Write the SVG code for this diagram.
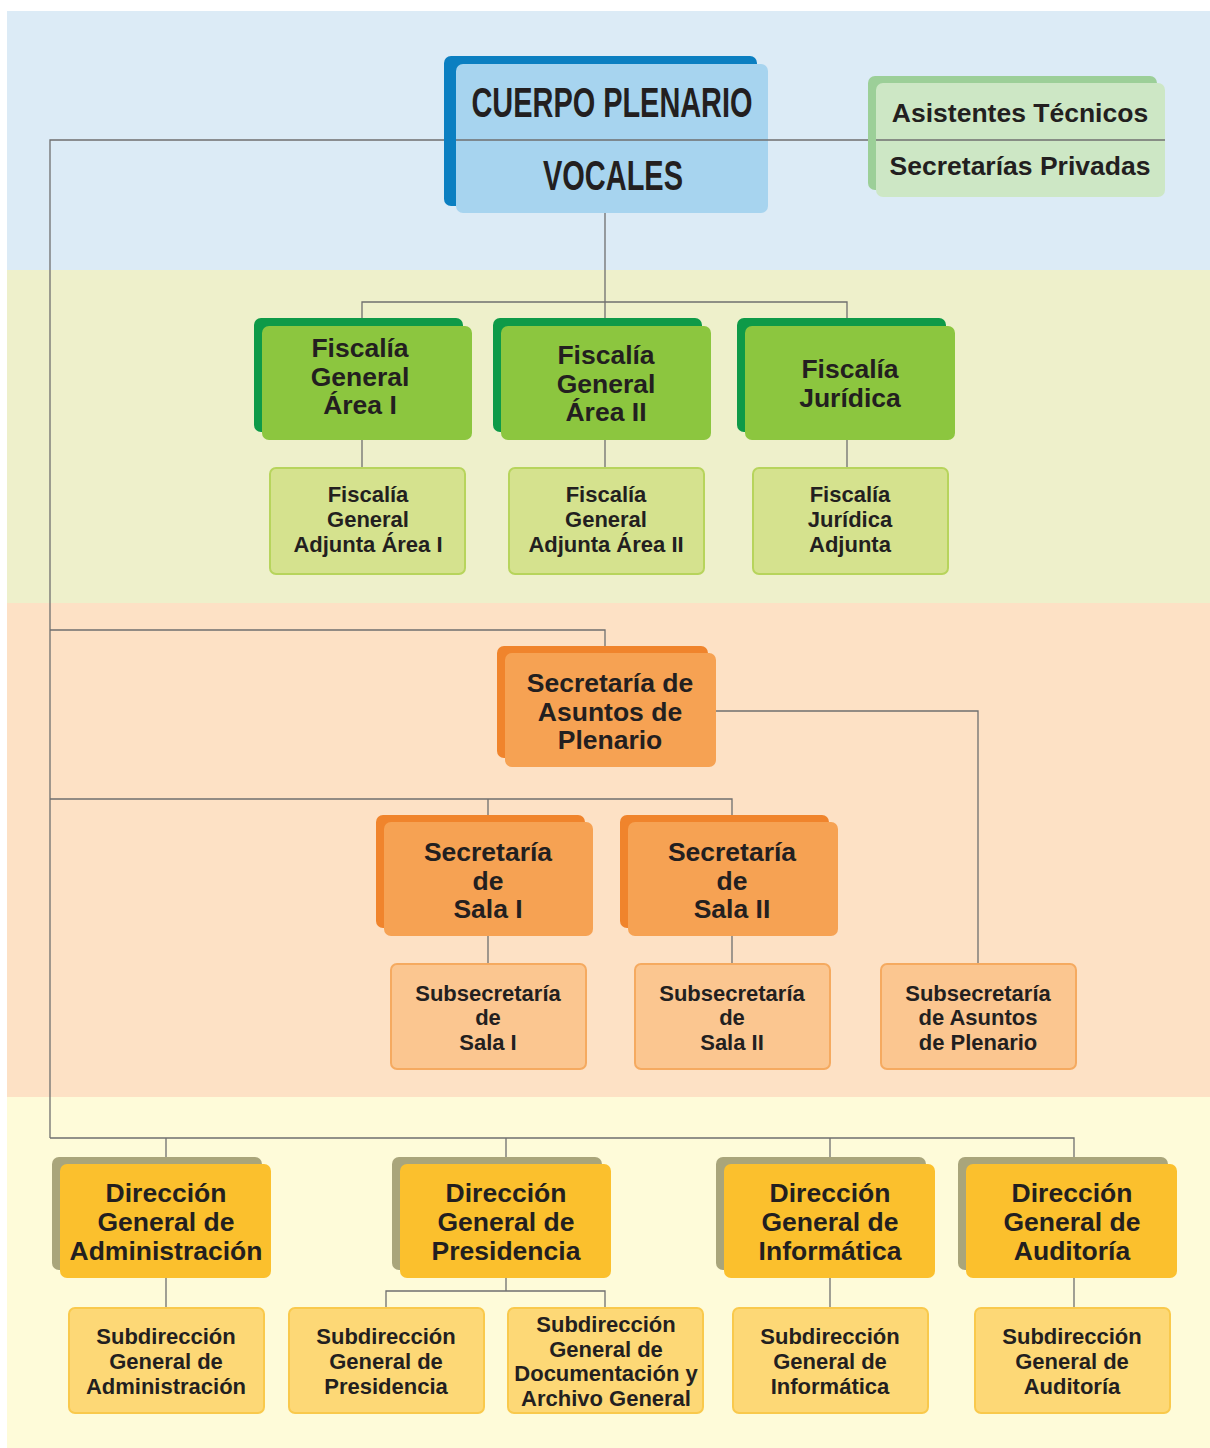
<svg xmlns="http://www.w3.org/2000/svg" width="1210" height="1448" viewBox="0 0 1210 1448">
<style>
text{font-family:"Liberation Sans",Arial,sans-serif;font-weight:bold;fill:#231f20;text-anchor:middle}
.m{font-size:26.5px}
.s{font-size:22px}
.h{font-size:42px}
.c{stroke:#6f6f6f;stroke-width:1.3;fill:none}
.gb{fill:#0e9a48}.gf{fill:#8cc63f}
.gs{fill:#d5e28e;stroke:#b7d45c;stroke-width:2}
.ob{fill:#f0842c}.of{fill:#f6a253}
.os{fill:#fbc690;stroke:#f5aa60;stroke-width:2}
.yb{fill:#a9a57b}.yf{fill:#fbc02d}
.ys{fill:#fdd876;stroke:#f9c94c;stroke-width:2}
</style>
<rect x="0" y="0" width="1210" height="1448" fill="#ffffff"/>
<rect x="7" y="11" width="1203" height="259" fill="#dcebf6"/>
<rect x="7" y="270" width="1203" height="333" fill="#eef0cb"/>
<rect x="7" y="603" width="1203" height="494" fill="#fde1c5"/>
<rect x="7" y="1097" width="1203" height="351" fill="#fefbd9"/>

<g id="connectors">
<path class="c" d="M50 1138 V140 H1165"/>
<path class="c" d="M605 213 V302 M362 320 V302 H847 V320 M605 302 V320"/>
<path class="c" d="M362 440 V467 M605 440 V467 M847 440 V467"/>
<path class="c" d="M50 630 H605 V646"/>
<path class="c" d="M716 711 H978 V963"/>
<path class="c" d="M50 799 H732 V815 M488 799 V815"/>
<path class="c" d="M488 936 V963 M732 936 V963"/>
<path class="c" d="M50 1138 H1074 V1157 M166 1138 V1157 M506 1138 V1157 M830 1138 V1157"/>
<path class="c" d="M166 1278 V1307 M830 1278 V1307 M1074 1278 V1307 M506 1278 V1291 M386 1307 V1291 H605 V1307"/>
</g>

<g id="cuerpo-plenario">
<rect x="444" y="56" width="313" height="150" rx="7" fill="#0b7fc1"/>
<rect x="456" y="64" width="312" height="149" rx="7" fill="#a7d4ef"/>
<line x1="456" y1="140" x2="768" y2="140" stroke="#6f6f6f" stroke-width="1.3"/>
<text class="h" x="612" y="117" textLength="281" lengthAdjust="spacingAndGlyphs">CUERPO PLENARIO</text>
<text class="h" x="613" y="190" textLength="140" lengthAdjust="spacingAndGlyphs">VOCALES</text>
</g>

<g id="asistentes">
<rect x="868" y="76" width="289" height="114" rx="7" fill="#9ccf98"/>
<rect x="876" y="83" width="289" height="114" rx="7" fill="#cde7c5"/>
<line x1="876" y1="140" x2="1165" y2="140" stroke="#6f6f6f" stroke-width="1.3"/>
<text class="m" x="1020" y="122">Asistentes Técnicos</text>
<text class="m" x="1020" y="175">Secretarías Privadas</text>
</g>

<g id="fiscalia-general-area-1">
<rect class="gb" x="254" y="318" width="209" height="114" rx="7"/>
<rect class="gf" x="262" y="326" width="210" height="114" rx="7"/>
<text class="m" x="360" y="357">Fiscalía</text>
<text class="m" x="360" y="386">General</text>
<text class="m" x="360" y="414">Área I</text>
</g>
<g id="fiscalia-general-area-2">
<rect class="gb" x="493" y="318" width="209" height="114" rx="7"/>
<rect class="gf" x="501" y="326" width="210" height="114" rx="7"/>
<text class="m" x="606" y="364">Fiscalía</text>
<text class="m" x="606" y="393">General</text>
<text class="m" x="606" y="421">Área II</text>
</g>
<g id="fiscalia-juridica">
<rect class="gb" x="737" y="318" width="209" height="114" rx="7"/>
<rect class="gf" x="745" y="326" width="210" height="114" rx="7"/>
<text class="m" x="850" y="378">Fiscalía</text>
<text class="m" x="850" y="407">Jurídica</text>
</g>

<g id="fiscalia-adjunta-1">
<rect class="gs" x="270" y="468" width="195" height="106" rx="6"/>
<text class="s" x="368" y="502">Fiscalía</text>
<text class="s" x="368" y="527">General</text>
<text class="s" x="368" y="552">Adjunta Área I</text>
</g>
<g id="fiscalia-adjunta-2">
<rect class="gs" x="509" y="468" width="195" height="106" rx="6"/>
<text class="s" x="606" y="502">Fiscalía</text>
<text class="s" x="606" y="527">General</text>
<text class="s" x="606" y="552">Adjunta Área II</text>
</g>
<g id="fiscalia-juridica-adjunta">
<rect class="gs" x="753" y="468" width="195" height="106" rx="6"/>
<text class="s" x="850" y="502">Fiscalía</text>
<text class="s" x="850" y="527">Jurídica</text>
<text class="s" x="850" y="552">Adjunta</text>
</g>

<g id="secretaria-asuntos-plenario">
<rect class="ob" x="497" y="646" width="211" height="112" rx="7"/>
<rect class="of" x="505" y="653" width="211" height="114" rx="7"/>
<text class="m" x="610" y="692">Secretaría de</text>
<text class="m" x="610" y="721">Asuntos de</text>
<text class="m" x="610" y="749">Plenario</text>
</g>

<g id="secretaria-sala-1">
<rect class="ob" x="376" y="815" width="209" height="113" rx="7"/>
<rect class="of" x="384" y="822" width="209" height="114" rx="7"/>
<text class="m" x="488" y="861">Secretaría</text>
<text class="m" x="488" y="890">de</text>
<text class="m" x="488" y="918">Sala I</text>
</g>
<g id="secretaria-sala-2">
<rect class="ob" x="620" y="815" width="209" height="113" rx="7"/>
<rect class="of" x="628" y="822" width="210" height="114" rx="7"/>
<text class="m" x="732" y="861">Secretaría</text>
<text class="m" x="732" y="890">de</text>
<text class="m" x="732" y="918">Sala II</text>
</g>

<g id="subsecretaria-sala-1">
<rect class="os" x="391" y="964" width="195" height="105" rx="6"/>
<text class="s" x="488" y="1001">Subsecretaría</text>
<text class="s" x="488" y="1025">de</text>
<text class="s" x="488" y="1050">Sala I</text>
</g>
<g id="subsecretaria-sala-2">
<rect class="os" x="635" y="964" width="195" height="105" rx="6"/>
<text class="s" x="732" y="1001">Subsecretaría</text>
<text class="s" x="732" y="1025">de</text>
<text class="s" x="732" y="1050">Sala II</text>
</g>
<g id="subsecretaria-asuntos-plenario">
<rect class="os" x="881" y="964" width="195" height="105" rx="6"/>
<text class="s" x="978" y="1001">Subsecretaría</text>
<text class="s" x="978" y="1025">de Asuntos</text>
<text class="s" x="978" y="1050">de Plenario</text>
</g>

<g id="direccion-administracion">
<rect class="yb" x="52" y="1157" width="210" height="113" rx="7"/>
<rect class="yf" x="60" y="1164" width="211" height="114" rx="7"/>
<text class="m" x="166" y="1202">Dirección</text>
<text class="m" x="166" y="1231">General de</text>
<text class="m" x="166" y="1260">Administración</text>
</g>
<g id="direccion-presidencia">
<rect class="yb" x="392" y="1157" width="210" height="113" rx="7"/>
<rect class="yf" x="400" y="1164" width="211" height="114" rx="7"/>
<text class="m" x="506" y="1202">Dirección</text>
<text class="m" x="506" y="1231">General de</text>
<text class="m" x="506" y="1260">Presidencia</text>
</g>
<g id="direccion-informatica">
<rect class="yb" x="716" y="1157" width="210" height="113" rx="7"/>
<rect class="yf" x="724" y="1164" width="211" height="114" rx="7"/>
<text class="m" x="830" y="1202">Dirección</text>
<text class="m" x="830" y="1231">General de</text>
<text class="m" x="830" y="1260">Informática</text>
</g>
<g id="direccion-auditoria">
<rect class="yb" x="958" y="1157" width="210" height="113" rx="7"/>
<rect class="yf" x="966" y="1164" width="211" height="114" rx="7"/>
<text class="m" x="1072" y="1202">Dirección</text>
<text class="m" x="1072" y="1231">General de</text>
<text class="m" x="1072" y="1260">Auditoría</text>
</g>

<g id="subdireccion-administracion">
<rect class="ys" x="69" y="1308" width="195" height="105" rx="6"/>
<text class="s" x="166" y="1344">Subdirección</text>
<text class="s" x="166" y="1369">General de</text>
<text class="s" x="166" y="1394">Administración</text>
</g>
<g id="subdireccion-presidencia">
<rect class="ys" x="289" y="1308" width="195" height="105" rx="6"/>
<text class="s" x="386" y="1344">Subdirección</text>
<text class="s" x="386" y="1369">General de</text>
<text class="s" x="386" y="1394">Presidencia</text>
</g>
<g id="subdireccion-documentacion">
<rect class="ys" x="508" y="1308" width="195" height="105" rx="6"/>
<text class="s" x="606" y="1332">Subdirección</text>
<text class="s" x="606" y="1357">General de</text>
<text class="s" x="606" y="1381">Documentación y</text>
<text class="s" x="606" y="1406">Archivo General</text>
</g>
<g id="subdireccion-informatica">
<rect class="ys" x="733" y="1308" width="195" height="105" rx="6"/>
<text class="s" x="830" y="1344">Subdirección</text>
<text class="s" x="830" y="1369">General de</text>
<text class="s" x="830" y="1394">Informática</text>
</g>
<g id="subdireccion-auditoria">
<rect class="ys" x="975" y="1308" width="195" height="105" rx="6"/>
<text class="s" x="1072" y="1344">Subdirección</text>
<text class="s" x="1072" y="1369">General de</text>
<text class="s" x="1072" y="1394">Auditoría</text>
</g>
</svg>
